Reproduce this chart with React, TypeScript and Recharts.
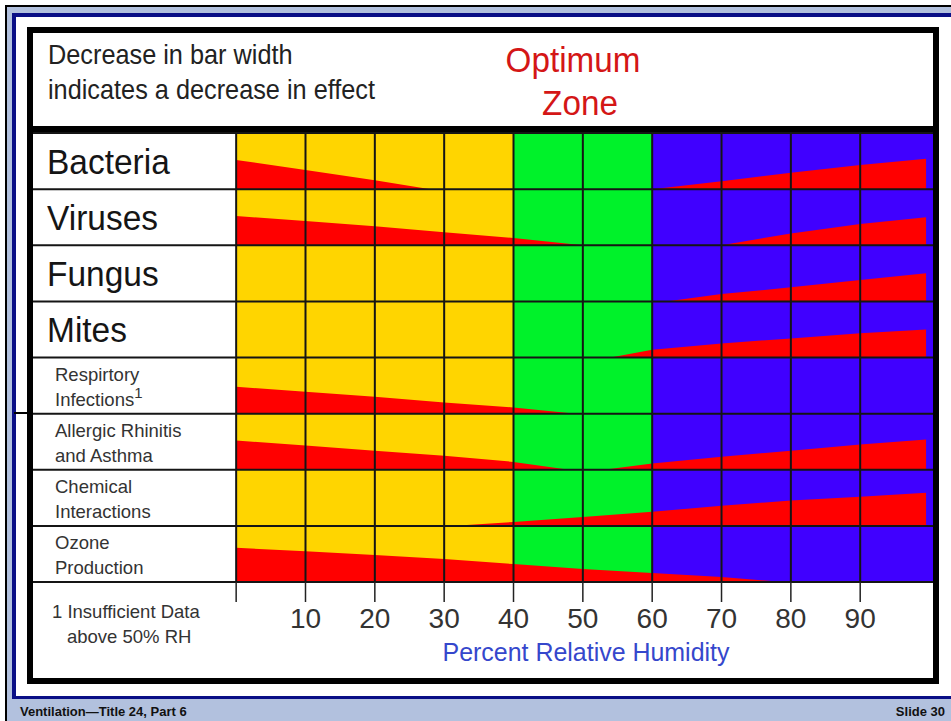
import { Area, ComposedChart, ReferenceArea, ReferenceLine, XAxis, YAxis } from "recharts";

const W = 951;
const H = 721;

// Row labels, top to bottom (one or two lines each).
const ROW_LABELS: string[][] = [
  ["Bacteria"],
  ["Viruses"],
  ["Fungus"],
  ["Mites"],
  ["Respirtory", "Infections"],
  ["Allergic Rhinitis", "and Asthma"],
  ["Chemical", "Interactions"],
  ["Ozone", "Production"],
];
// row whose label carries the "1" footnote marker
const FOOTNOTE_ROW = 4;

const RH_TICKS = [0, 10, 20, 30, 40, 50, 60, 70, 80, 90];
// x domain runs past 0 on the left so the label column shares the scale
const RH_DOMAIN: [number, number] = [-29.3, 100.5];

// humidity bands: dry / optimum / damp
const ZONE_EDGES = [0, 40, 60, 100.5];

// Bar width (effect) as % of the row band, sampled along RH: [rh, width]
const BACTERIA_DRY = [[0, 52], [10, 34], [20, 16], [28, 0]];
const BACTERIA_DAMP = [[60, 0], [70, 14], [80, 29], [90, 43], [99.5, 54]];
const VIRUSES_DRY = [[0, 52], [10, 43], [20, 34], [30, 23], [40, 13], [50, 0]];
const VIRUSES_DAMP = [[70, 0], [80, 21], [90, 38], [99.5, 50]];
const FUNGUS_DAMP = [[62, 0], [70, 13], [80, 25], [90, 38], [99.5, 50]];
const MITES_DAMP = [[54, 0], [60, 14], [70, 25], [80, 34], [90, 43], [99.5, 50]];
const RESPIRATORY_DRY = [[0, 48], [10, 39], [20, 30], [30, 20], [40, 11], [49, 0]];
const ALLERGY_DRY = [[0, 52], [10, 43], [20, 34], [30, 25], [40, 14], [48, 0]];
const ALLERGY_DAMP = [[53, 0], [60, 11], [70, 23], [80, 34], [90, 45], [99.5, 54]];
const CHEMICAL = [[31, 0], [40, 7], [50, 16], [60, 25], [70, 36], [80, 45], [90, 52], [99.5, 59]];
const OZONE = [[0, 61], [10, 55], [20, 48], [30, 41], [40, 32], [50, 23], [60, 16], [70, 9], [79, 0]];

const SEGMENTS: { row: number; pts: number[][] }[] = [
  { row: 0, pts: BACTERIA_DRY },
  { row: 0, pts: BACTERIA_DAMP },
  { row: 1, pts: VIRUSES_DRY },
  { row: 1, pts: VIRUSES_DAMP },
  { row: 2, pts: FUNGUS_DAMP },
  { row: 3, pts: MITES_DAMP },
  { row: 4, pts: RESPIRATORY_DRY },
  { row: 5, pts: ALLERGY_DRY },
  { row: 5, pts: ALLERGY_DAMP },
  { row: 6, pts: CHEMICAL },
  { row: 7, pts: OZONE },
];

const ZONE_FILLS = ["#ffd500", "#00f22a", "#4000ff"];
const EFFECT_RED = "#ff0000";
const GRID = "#151515";
const SLIDE_BLUE = "#b2c1de";
const NAVY = "#0a0f86";
const FONT = "'Liberation Sans', Arial, sans-serif";

const NROWS = ROW_LABELS.length;
const rowTicks = ROW_LABELS.map((_, i) => NROWS - 0.5 - i);
const rowEdges = Array.from({ length: NROWS + 1 }, (_, i) => i);

// Arial-ish text squeezed horizontally, like the slide's narrow face
function Narrow({ x, y, size, sx, fill, anchor, children }: any) {
  return (
    <text
      transform={`translate(${x} ${y}) scale(${sx} 1)`}
      fontSize={size}
      fill={fill}
      fontFamily={FONT}
      textAnchor={anchor}
    >
      {children}
    </text>
  );
}

function RowLabel(props: any) {
  const { x, y, payload } = props;
  const row = Math.round(NROWS - 0.5 - payload.value);
  const lines = ROW_LABELS[row];
  if (!lines) return null;
  if (lines.length === 1) {
    return (
      <Narrow x={x - 3} y={y + 13} size={36} sx={0.93} fill="#151515">
        {lines[0]}
      </Narrow>
    );
  }
  return (
    <text x={x + 5} y={y} fontSize={18.5} fill="#333" fontFamily={FONT}>
      <tspan x={x + 5} dy={-5}>{lines[0]}</tspan>
      <tspan x={x + 5} dy={25}>{lines[1]}</tspan>
      {row === FOOTNOTE_ROW && (
        <tspan fontSize={15} dy={-8}>1</tspan>
      )}
    </text>
  );
}

function SlideFrame() {
  return (
    <svg width={W} height={H} style={{ position: "absolute", left: 0, top: 0 }}>
      <rect x={0} y={0} width={W} height={H} fill="#fff" />
      {/* slide border */}
      <rect x={5} y={5} width={W - 5} height={2} fill="#000" />
      <rect x={5} y={5} width={2} height={H - 5} fill="#000" />
      <rect x={7} y={7} width={W - 7} height={6} fill={SLIDE_BLUE} />
      <rect x={7} y={7} width={5} height={H - 7} fill={SLIDE_BLUE} />
      <rect x={12} y={13} width={W - 12} height={4} fill={NAVY} />
      <rect x={12} y={13} width={4} height={686} fill={NAVY} />
      <rect x={12} y={696} width={W - 12} height={3} fill={NAVY} />
      <rect x={7} y={699} width={W - 7} height={H - 699} fill={SLIDE_BLUE} />
      <rect x={14} y={412} width={19} height={2} fill="#000" />
      <text x={20} y={716} fontSize={13} fontWeight="bold" fill="#111" fontFamily={FONT}>
        Ventilation—Title 24, Part 6
      </text>
      <text x={945} y={716} fontSize={13} fontWeight="bold" fill="#111" fontFamily={FONT} textAnchor="end">
        Slide 30
      </text>

      {/* chart box */}
      <rect x={30} y={30} width={906} height={651} fill="none" stroke="#000" strokeWidth={6} />
      <rect x={27} y={126} width={912} height={7} fill="#000" />

      <Narrow x={48} y={64} size={27.5} sx={0.92} fill="#222">Decrease in bar width</Narrow>
      <Narrow x={48} y={99} size={27.5} sx={0.92} fill="#222">indicates a decrease in effect</Narrow>
      <Narrow x={573} y={72} size={35} sx={0.95} fill="#d41616" anchor="middle">Optimum</Narrow>
      <Narrow x={580} y={115} size={35} sx={0.95} fill="#d41616" anchor="middle">Zone</Narrow>

      <g fontFamily={FONT}>
        <text x={52} y={618} fontSize={18.5} fill="#333">1 Insufficient Data</text>
        <text x={67} y={643} fontSize={18.5} fill="#333">above 50% RH</text>
      </g>
      <Narrow x={586} y={661} size={26} sx={0.96} fill="#3547cc" anchor="middle">
        Percent Relative Humidity
      </Narrow>
    </svg>
  );
}

export default function App() {
  return (
    <div style={{ position: "absolute", left: 0, top: 0, width: W, height: H, fontFamily: FONT }}>
      <SlideFrame />
      <div style={{ position: "absolute", left: 0, top: 0 }}>
        <ComposedChart width={W} height={H} margin={{ top: 133, right: 18, bottom: 79, left: 33 }}>
          <XAxis
            type="number"
            dataKey="rh"
            domain={RH_DOMAIN}
            allowDataOverflow
            ticks={RH_TICKS}
            interval={0}
            height={60}
            axisLine={false}
            tickSize={20}
            tickMargin={6}
            tickLine={{ stroke: "#222", strokeWidth: 1.5 }}
            tick={{ fill: "#333", fontSize: 28 }}
            tickFormatter={(v: number) => (v === 0 ? "" : String(v))}
          />
          <YAxis
            type="number"
            domain={[0, NROWS]}
            ticks={rowTicks}
            interval={0}
            mirror
            axisLine={false}
            tickLine={false}
            tickSize={0}
            tickMargin={17}
            tick={RowLabel}
          />

          {ZONE_FILLS.map((fill, i) => (
            <ReferenceArea
              key={fill}
              x1={ZONE_EDGES[i]}
              x2={ZONE_EDGES[i + 1]}
              y1={0}
              y2={NROWS}
              fill={fill}
              fillOpacity={1}
              stroke="none"
              zIndex={-10}
            />
          ))}

          {SEGMENTS.map((seg, i) => {
            const base = NROWS - 1 - seg.row;
            return (
              <Area
                key={i}
                data={seg.pts.map(([rh, w]) => ({ rh, w }))}
                dataKey={(d: { w: number }) => [base, base + d.w / 100]}
                type="linear"
                fill={EFFECT_RED}
                fillOpacity={1}
                stroke="none"
                dot={false}
                activeDot={false}
                isAnimationActive={false}
              />
            );
          })}

          {RH_TICKS.map((v) => (
            <ReferenceLine key={`v${v}`} x={v} stroke={GRID} strokeWidth={2} zIndex={450} />
          ))}
          {rowEdges.map((v) => (
            <ReferenceLine key={`h${v}`} y={v} stroke={GRID} strokeWidth={2} zIndex={450} />
          ))}
        </ComposedChart>
      </div>
    </div>
  );
}
